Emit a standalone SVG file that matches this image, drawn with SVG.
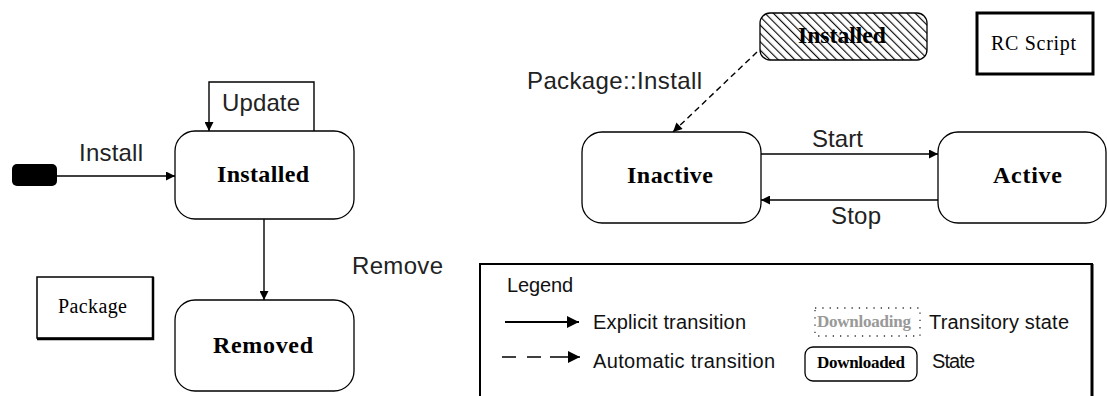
<svg xmlns="http://www.w3.org/2000/svg" width="1107" height="396" viewBox="0 0 1107 396">
<style>
.state{fill:#fff;stroke:#000;stroke-width:1.3}
.box{fill:#fff;stroke:#000;stroke-width:1.5}
.conn{stroke:#000;stroke-width:1.4;fill:none}
.sans{font-family:"Liberation Sans",Arial,sans-serif;font-size:24px;fill:#222}
.lg{font-family:"Liberation Sans",Arial,sans-serif;font-size:20px;fill:#111}
.sb{font-family:"Liberation Serif","Times New Roman",serif;font-weight:bold;font-size:24px;fill:#000}
.sr{font-family:"Liberation Serif","Times New Roman",serif;font-size:20px;fill:#000}
</style>
<defs>
<marker id="arr" markerUnits="userSpaceOnUse" viewBox="0 0 10 10" refX="10" refY="5" markerWidth="10" markerHeight="9" orient="auto">
<path d="M0,0 L10,5 L0,10 z" fill="#000"/>
</marker>
<marker id="arrL" markerUnits="userSpaceOnUse" viewBox="0 0 10 10" refX="10" refY="5" markerWidth="14" markerHeight="12" orient="auto">
<path d="M0,0 L10,5 L0,10 z" fill="#000"/>
</marker>
<pattern id="hatch" patternUnits="userSpaceOnUse" width="5.9" height="5.9" patternTransform="rotate(-45)">
<rect width="5.9" height="5.9" fill="#fff"/>
<line x1="0.6" y1="0" x2="0.6" y2="5.9" stroke="#000" stroke-width="1.1"/>
</pattern>
</defs>

<g id="connectors">
<line class="conn" x1="57" y1="176" x2="175" y2="176" marker-end="url(#arr)"/>
<text class="sans" x="79" y="161" textLength="64">Install</text>
<path class="conn" d="M314,131 V82 H209 V131" marker-end="url(#arr)"/>
<text class="sans" x="222" y="111" textLength="78">Update</text>
<line class="conn" x1="264" y1="219" x2="264" y2="300" marker-end="url(#arr)"/>
<text class="sans" x="352" y="274" textLength="91">Remove</text>
<line class="conn" x1="757" y1="52" x2="673" y2="132" stroke-dasharray="6 4" marker-end="url(#arr)"/>
<text class="sans" x="527" y="89" textLength="175">Package::Install</text>
<line class="conn" x1="761" y1="154" x2="938" y2="154" marker-end="url(#arr)"/>
<text class="sans" x="812" y="147" textLength="51">Start</text>
<line class="conn" x1="938" y1="200" x2="761" y2="200" marker-end="url(#arr)"/>
<text class="sans" x="831" y="224" textLength="50">Stop</text>
</g>

<g id="initial">
<rect x="12" y="164" width="45" height="22" rx="5" fill="#000"/>
</g>

<g id="installed">
<rect class="state" x="175" y="131" width="179" height="88" rx="20"/>
<text class="sb" x="217" y="182" textLength="92">Installed</text>
</g>

<g id="removed">
<rect class="state" x="175" y="300" width="179" height="91" rx="20"/>
<text class="sb" x="213" y="353" textLength="100">Removed</text>
</g>

<g id="package">
<rect class="box" x="37" y="277" width="116" height="61"/>
<path d="M153,277 V339 H37" fill="none" stroke="#000" stroke-width="2.5"/>
<text class="sr" x="58" y="313" textLength="69">Package</text>
</g>

<g id="installed-external">
<rect x="760" y="13" width="167" height="47" rx="10" fill="url(#hatch)" stroke="#000" stroke-width="1.3"/>
<text class="sb" x="798" y="43" textLength="88" lengthAdjust="spacingAndGlyphs">Installed</text>
</g>

<g id="rcscript">
<rect x="977" y="13" width="116" height="61" fill="#fff" stroke="#000" stroke-width="3"/>
<text class="sr" x="991" y="50" textLength="85">RC Script</text>
</g>

<g id="inactive">
<rect class="state" x="582" y="132" width="179" height="91" rx="20"/>
<text class="sb" x="627" y="183" textLength="86">Inactive</text>
</g>

<g id="active">
<rect class="state" x="938" y="132" width="168" height="91" rx="20"/>
<text class="sb" x="993" y="183" textLength="69">Active</text>
</g>

<g id="legend">
<rect x="480" y="264" width="612" height="150" fill="#fff" stroke="#000" stroke-width="2"/>
<line x1="1092" y1="264" x2="1092" y2="396" stroke="#000" stroke-width="3"/>
<text class="lg" x="507" y="292" textLength="66">Legend</text>
<line x1="505" y1="322" x2="579" y2="322" stroke="#000" stroke-width="2" marker-end="url(#arrL)"/>
<text class="lg" x="593" y="329" textLength="153">Explicit transition</text>
<line x1="502" y1="357" x2="580" y2="357" stroke="#000" stroke-width="1.5" stroke-dasharray="14 11 14 9 40" marker-end="url(#arrL)"/>
<text class="lg" x="593" y="368" textLength="182">Automatic transition</text>
<rect x="815" y="308" width="105" height="28" fill="none" stroke="#333" stroke-width="1.3" stroke-dasharray="1.3 6"/>
<text class="sb" x="817" y="327" textLength="94" style="font-size:17px;fill:#999">Downloading</text>
<text class="lg" x="929" y="329" textLength="140">Transitory state</text>
<rect x="805" y="347" width="112" height="34" rx="8" fill="#fff" stroke="#000" stroke-width="1.3"/>
<text class="sb" x="817" y="368" textLength="88" style="font-size:17px">Downloaded</text>
<text class="lg" x="932" y="368" textLength="43">State</text>
</g>
</svg>
